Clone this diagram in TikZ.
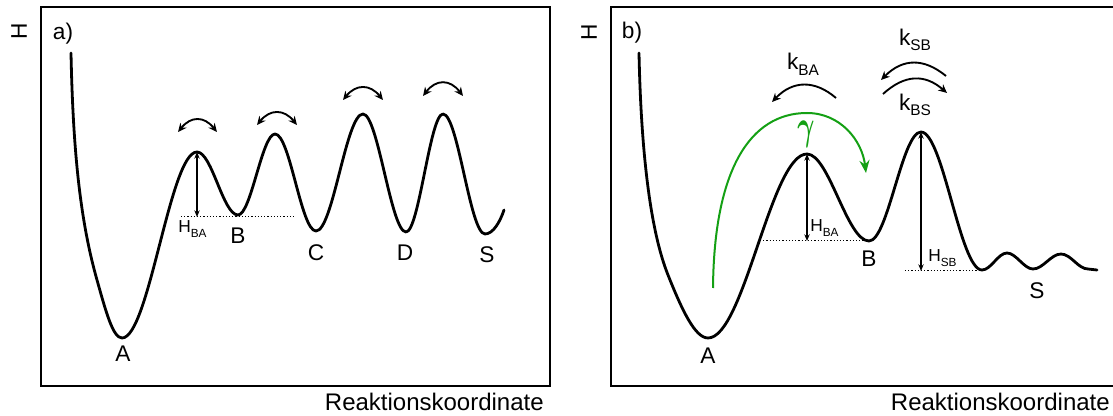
\documentclass[tikz,border=0pt]{standalone}
\usepackage{fontspec}
\setmainfont{Liberation Sans}
\usetikzlibrary{arrows.meta}
\definecolor{jumpgreen}{RGB}{20,160,20}
\newcommand{\lowtxt}[1]{\raisebox{-0.25em}{\scalebox{0.68}{#1}}}
\tikzset{
  panelframe/.style={line width=1.7pt},
  potcurve/.style={line width=2.1pt, line join=round, line cap=round},
  refline/.style={line width=0.75pt, dash pattern=on 0.9pt off 1.5pt},
  barrierarrow/.style={line width=1.1pt, {Stealth[length=5pt,width=4pt]}-{Stealth[length=5pt,width=4pt]}},
  ratearc/.style={line width=1.4pt},
  ratetip/.style={-{Stealth[length=6.5pt,width=6pt]}},
  ratetips/.style={{Stealth[length=6.5pt,width=6pt]}-{Stealth[length=6.5pt,width=6pt]}},
  statelbl/.style={font=\fontsize{17}{20}\selectfont, inner sep=0pt},
  axislbl/.style={font=\fontsize{18}{21}\selectfont, inner sep=0pt},
  hlbl/.style={font=\fontsize{13}{15}\selectfont, inner sep=0pt, anchor=west},
  jump/.style={jumpgreen, line width=1.5pt, -{Stealth[length=9.5pt,width=7.5pt]}}
}
\begin{document}
\begin{tikzpicture}[x=0.75pt, y=-0.75pt]
\useasboundingbox (0,0) rectangle (1113,416);

% a) landscape with several minima
\draw[panelframe] (41,7) rectangle (550,386);
\node[statelbl, rotate=90] (enA) at (19,31) {H};
\node[statelbl] (tagA) at (63,34) {a)};
\node[axislbl, anchor=base east] (rcA) at (544,410) {Reaktionskoordinate};

\draw[potcurve] (71,53) .. controls (73,150) and (80,220) .. (97,280)
  .. controls (106,312) and (113,338) .. (122,338)
  .. controls (149,338) and (170,152) .. (197,152)
  .. controls (212,152) and (223,215) .. (238,215)
  .. controls (251,215) and (262,134) .. (275,134)
  .. controls (290,134) and (301,231) .. (316,231)
  .. controls (333,231) and (346,114) .. (363,114)
  .. controls (378,114) and (391,232) .. (406,232)
  .. controls (419,232) and (430,114) .. (443,114)
  .. controls (458,114) and (470,234) .. (485,234)
  .. controls (493,234) and (500,222) .. (504,210);

\node[statelbl] (sa) at (123,354) {A};
\node[statelbl] (sb) at (238,236) {B};
\node[statelbl] (sc) at (316,253) {C};
\node[statelbl] (sd) at (405,253) {D};
\node[statelbl] (ss) at (487,255) {S};

\coordinate (topA) at (197,152);
\coordinate (botA) at (197,217);
\draw[refline] (181,217) -- (294,217);
\draw[barrierarrow] (topA) -- (botA);
\node[hlbl] (hbaA) at (178,229) {H\lowtxt{BA}};

\coordinate (l1) at (178,132); \coordinate (r1) at (217,132);
\coordinate (l2) at (257,125); \coordinate (r2) at (297,125);
\coordinate (l3) at (343,100); \coordinate (r3) at (383,100);
\coordinate (l4) at (423,96);  \coordinate (r4) at (463,96);
\draw[ratearc, ratetips] (l1) .. controls +(13,-16) and +(-13,-16) .. (r1);
\draw[ratearc, ratetips] (l2) .. controls +(13,-16) and +(-13,-16) .. (r2);
\draw[ratearc, ratetips] (l3) .. controls +(13,-16) and +(-13,-16) .. (r3);
\draw[ratearc, ratetips] (l4) .. controls +(13,-17) and +(-13,-17) .. (r4);

% b) landscape with trap B and product S
\draw[panelframe] (1113,7) -| (611,386) -- (1113,386);
\node[statelbl, rotate=90] (enB) at (589,32) {H};
\node[statelbl] (tagB) at (632,33) {b)};
\node[axislbl, anchor=base east] (rcB) at (1110,410) {Reaktionskoordinate};

\draw[potcurve] (639,53) .. controls (641,150) and (650,230) .. (668,275)
  .. controls (682,310) and (695,338) .. (708,338)
  .. controls (744,338) and (771,154) .. (807,154)
  .. controls (829,154) and (847,241) .. (869,241)
  .. controls (888,241) and (902,132) .. (921,132)
  .. controls (943,132) and (960,270) .. (982,270)
  .. controls (991,270) and (998,253) .. (1007,253)
  .. controls (1016,253) and (1024,269) .. (1033,269)
  .. controls (1043,269) and (1051,254) .. (1061,254)
  .. controls (1071,254) and (1078,269) .. (1088,269)
  -- (1097,270);

\node[statelbl] (ta) at (708,356) {A};
\node[statelbl] (tb) at (869,259) {B};
\node[statelbl] (ts) at (1037,291) {S};

\coordinate (topBA) at (807,154);
\coordinate (botBA) at (807,241);
\coordinate (topSB) at (921,132);
\coordinate (botSB) at (921,271);
\draw[refline] (760,241) -- (869,241);
\draw[refline] (905,271) -- (982,271);
\draw[barrierarrow] (topBA) -- (botBA);
\draw[barrierarrow] (topSB) -- (botSB);
\node[hlbl] (hbaB) at (810,228) {H\lowtxt{BA}};
\node[hlbl] (hsbB) at (928,258) {H\lowtxt{SB}};

\coordinate (kbaS) at (836,98);  \coordinate (kbaE) at (772,102);
\coordinate (ksbS) at (946,76);  \coordinate (ksbE) at (881,80);
\coordinate (kbsS) at (883,94);  \coordinate (kbsE) at (947,93);
\draw[ratearc, ratetip] (kbaS) .. controls (815,80) and (793,80) .. (kbaE);
\draw[ratearc, ratetip] (ksbS) .. controls (924,58) and (903,58) .. (ksbE);
\draw[ratearc, ratetip] (kbsS) .. controls (905,74) and (925,74) .. (kbsE);
\node[statelbl] (kba) at (803,64) {k\lowtxt{BA}};
\node[statelbl] (ksb) at (915,40) {k\lowtxt{SB}};
\node[statelbl] (kbs) at (915,105) {k\lowtxt{BS}};

\coordinate (gStart) at (713,288);
\coordinate (gEnd) at (866,173);
\draw[jump] (gStart) .. controls (714,170) and (750,113) .. (807,113)
  .. controls (840,113) and (862,140) .. (gEnd);
\node[font=\fontsize{20}{22}\selectfont, text=jumpgreen, inner sep=0pt] (gam) at (806,134) {\scalebox{0.95}[1.5]{\boldmath$\gamma$}};
\end{tikzpicture}
\end{document}
